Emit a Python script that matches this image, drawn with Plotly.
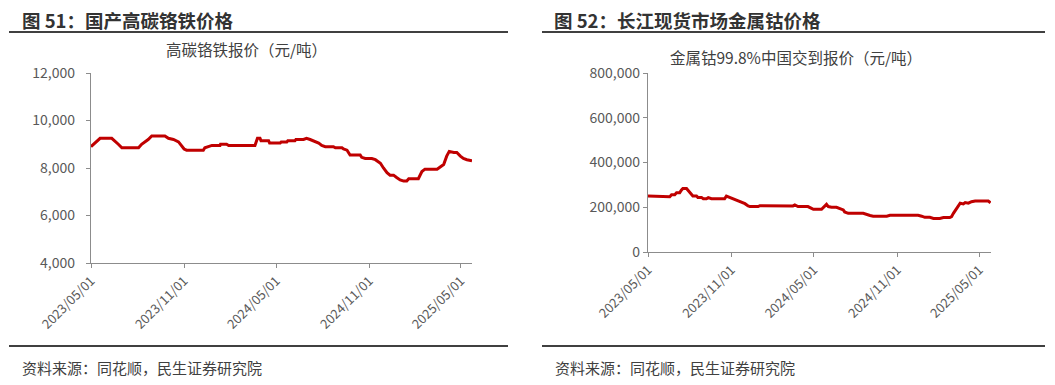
import plotly.graph_objects as go

# ---- Data: 国产高碳铬铁价格 (元/吨) ----
crfe_dates = [
    "2023-05-01", "2023-05-19", "2023-06-11", "2023-06-17", "2023-06-24", "2023-07-01",
    "2023-08-03", "2023-08-09", "2023-08-16", "2023-08-22", "2023-08-29", "2023-09-24",
    "2023-10-01", "2023-10-11", "2023-10-21", "2023-10-27", "2023-11-01", "2023-11-06",
    "2023-12-09", "2023-12-12", "2023-12-19", "2023-12-26", "2024-01-11", "2024-01-12",
    "2024-01-24", "2024-01-28", "2024-03-20", "2024-03-25", "2024-03-30", "2024-04-01",
    "2024-04-16", "2024-04-18", "2024-05-09", "2024-05-11", "2024-05-22", "2024-05-24",
    "2024-06-07", "2024-06-09", "2024-06-24", "2024-06-30", "2024-07-07", "2024-07-14",
    "2024-07-24", "2024-07-30", "2024-08-06", "2024-08-22", "2024-08-26", "2024-09-08",
    "2024-09-11", "2024-09-18", "2024-09-24", "2024-10-14", "2024-10-17", "2024-10-24",
    "2024-11-06", "2024-11-13", "2024-11-19", "2024-11-23", "2024-11-29", "2024-12-06",
    "2024-12-12", "2024-12-19", "2024-12-25", "2025-01-01", "2025-01-08", "2025-01-14",
    "2025-01-18", "2025-02-06", "2025-02-13", "2025-02-19", "2025-03-15", "2025-03-21",
    "2025-03-28", "2025-04-03", "2025-04-08", "2025-04-17", "2025-04-23", "2025-04-30",
    "2025-05-06", "2025-05-13", "2025-05-23",
]
crfe_values = [
    8900, 9250, 9250, 9150, 9000, 8850,
    8850, 9000, 9100, 9200, 9350, 9350,
    9250, 9200, 9100, 8950, 8800, 8750,
    8750, 8850, 8900, 8950, 8950, 9000,
    9000, 8950, 8950, 9250, 9250, 9150,
    9150, 9050, 9050, 9100, 9100, 9150,
    9150, 9200, 9200, 9250, 9200, 9150,
    9050, 8950, 8900, 8900, 8850, 8850,
    8800, 8750, 8550, 8550, 8450, 8400,
    8400, 8350, 8250, 8200, 8000, 7800,
    7700, 7700, 7600, 7500, 7450, 7450,
    7550, 7550, 7850, 7950, 7950, 8050,
    8150, 8500, 8700, 8650, 8650, 8500,
    8400, 8350, 8300,
]

# ---- Data: 金属钴99.8%中国交到报价 (元/吨) ----
co_dates = [
    "2023-05-01", "2023-05-27", "2023-05-30", "2023-06-18", "2023-06-22", "2023-06-29",
    "2023-07-03", "2023-07-10", "2023-07-14", "2023-07-17", "2023-07-25", "2023-07-28",
    "2023-08-01", "2023-08-05", "2023-08-08", "2023-08-16", "2023-08-19", "2023-08-27",
    "2023-08-31", "2023-09-07", "2023-09-11", "2023-09-18", "2023-10-17", "2023-10-21",
    "2023-10-28", "2023-11-05", "2023-11-12", "2023-11-20", "2023-12-01", "2023-12-08",
    "2023-12-12", "2023-12-30", "2024-01-03", "2024-03-16", "2024-03-20", "2024-03-27",
    "2024-04-18", "2024-04-26", "2024-04-30", "2024-05-18", "2024-05-25", "2024-05-29",
    "2024-06-02", "2024-06-09", "2024-06-20", "2024-06-27", "2024-07-05", "2024-07-08",
    "2024-07-16", "2024-08-18", "2024-08-25", "2024-09-02", "2024-09-09", "2024-10-09",
    "2024-10-16", "2024-11-22", "2024-11-25", "2024-11-29", "2024-12-17", "2024-12-25",
    "2025-01-01", "2025-01-12", "2025-01-20", "2025-02-03", "2025-02-11", "2025-02-25",
    "2025-03-01", "2025-03-05", "2025-03-12", "2025-03-20", "2025-03-27", "2025-03-31",
    "2025-04-07", "2025-04-14", "2025-04-22", "2025-05-21", "2025-05-26",
]
co_values = [
    250000, 250000, 247000, 247000, 256000, 256000,
    265000, 265000, 277000, 284000, 284000, 277000,
    268000, 255000, 250000, 250000, 244000, 244000,
    238000, 238000, 243000, 238000, 238000, 250000,
    244000, 238000, 231000, 224000, 216000, 206000,
    203000, 203000, 207000, 206000, 210000, 203000,
    203000, 195000, 191000, 191000, 203000, 213000,
    203000, 200000, 200000, 194000, 188000, 179000,
    173000, 173000, 167000, 163000, 160000, 160000,
    164000, 164000, 167000, 164000, 164000, 160000,
    155000, 155000, 150000, 150000, 154000, 154000,
    158000, 173000, 194000, 218000, 215000, 221000,
    218000, 225000, 228000, 228000, 220000,
]

tick_dates = ["2023-05-01", "2023-11-01", "2024-05-01", "2024-11-01", "2025-05-01"]
tick_labels = ["2023/05/01", "2023/11/01", "2024/05/01", "2024/11/01", "2025/05/01"]

LINE_COLOR = "#C00000"
AXIS_COLOR = "#8C8C8C"
CJK = "Noto Sans CJK SC, Noto Sans, sans-serif"
TICK_FONT = dict(family=CJK, size=13, color="#595959")

fig = go.Figure()
fig.add_trace(go.Scatter(x=crfe_dates, y=crfe_values, mode="lines",
                         line=dict(color=LINE_COLOR, width=3), xaxis="x", yaxis="y",
                         showlegend=False, hoverinfo="x+y"))
fig.add_trace(go.Scatter(x=co_dates, y=co_values, mode="lines",
                         line=dict(color=LINE_COLOR, width=3), xaxis="x2", yaxis="y2",
                         showlegend=False, hoverinfo="x+y"))

# The page body has an 8px margin, so the figure is drawn 8px smaller and
# all screen-pixel positions are shifted by that offset.
OFF = 8
W, H = 1055 - OFF, 385 - OFF

def px_x(x):
    return (x - OFF) / W

def px_y(y):
    return 1 - (y - OFF) / H

xaxis_common = dict(
    type="date", tickmode="array", tickvals=tick_dates, ticktext=tick_labels,
    tickangle=-45, ticks="outside", ticklen=4, tickcolor=AXIS_COLOR,
    showline=True, linecolor=AXIS_COLOR, linewidth=1.3, showgrid=False,
    zeroline=False, tickfont=dict(TICK_FONT, size=13), automargin=False,
)
yaxis_common = dict(
    ticks="outside", ticklen=4, tickcolor=AXIS_COLOR, showline=True,
    linecolor=AXIS_COLOR, linewidth=1.3, showgrid=False, zeroline=False,
    tickformat=",d", tickfont=dict(TICK_FONT, size=14), automargin=False,
)

fig.update_layout(
    template="none",
    width=W, height=H,
    margin=dict(l=0, r=0, t=0, b=0, pad=0, autoexpand=False),
    paper_bgcolor="white", plot_bgcolor="white",
    xaxis=dict(xaxis_common, domain=[px_x(91), px_x(472)],
               range=["2023-05-01", "2025-05-23"], anchor="y"),
    yaxis=dict(yaxis_common, domain=[px_y(263), px_y(73)],
               range=[4000, 12000], dtick=2000, anchor="x", ticklabelstandoff=8),
    xaxis2=dict(xaxis_common, domain=[px_x(648), px_x(991)],
                range=["2023-05-01", "2025-05-27"], anchor="y2"),
    yaxis2=dict(yaxis_common, domain=[px_y(252), px_y(73)],
                range=[0, 800000], dtick=200000, anchor="x2"),
)

shapes = []
for (x0, x1) in [(9, 508), (542, 1045)]:
    for yy in (32, 346):
        shapes.append(dict(type="line", xref="paper", yref="paper",
                           x0=px_x(x0), x1=px_x(x1), y0=px_y(yy), y1=px_y(yy),
                           line=dict(color="#404040", width=2.2)))
fig.update_layout(shapes=shapes)

annotations = [
    dict(text="<b>图 51：国产高碳铬铁价格</b>", x=px_x(21), y=px_y(20.5),
         xanchor="left", yanchor="middle", borderpad=0,
         font=dict(family=CJK, size=18.5, color="#333333")),
    dict(text="<b>图 52：长江现货市场金属钴价格</b>", x=px_x(553), y=px_y(20.5),
         xanchor="left", yanchor="middle", borderpad=0,
         font=dict(family=CJK, size=18.5, color="#333333")),
    dict(text="高碳铬铁报价（元/吨）", x=px_x(246), y=px_y(49),
         xanchor="center", yanchor="middle", font=dict(family=CJK, size=15.5, color="#404040")),
    dict(text="金属钴99.8%中国交到报价（元/吨）", x=px_x(796), y=px_y(57),
         xanchor="center", yanchor="middle", font=dict(family=CJK, size=15.5, color="#404040")),
    dict(text="资料来源：同花顺，民生证券研究院", x=px_x(20), y=px_y(367),
         xanchor="left", yanchor="middle", font=dict(family=CJK, size=15, color="#404040")),
    dict(text="资料来源：同花顺，民生证券研究院", x=px_x(553), y=px_y(367),
         xanchor="left", yanchor="middle", font=dict(family=CJK, size=15, color="#404040")),
]
for a in annotations:
    a.update(xref="paper", yref="paper", showarrow=False)
fig.update_layout(annotations=annotations)

fig.write_html("out.html")
